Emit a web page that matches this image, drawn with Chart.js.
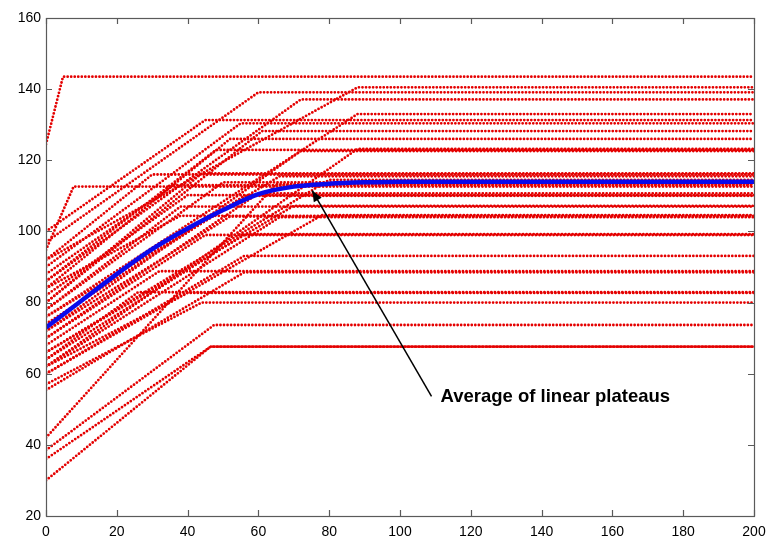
<!DOCTYPE html>
<html><head><meta charset="utf-8">
<script src="https://cdn.jsdelivr.net/npm/chart.js@4/dist/chart.umd.min.js"></script>
<style>html,body{margin:0;padding:0;background:#fff}canvas{display:block}</style>
</head><body>
<canvas id="c" width="771" height="542"></canvas>
<script>
// Axis ticks
const xTicks = [0, 20, 40, 60, 80, 100, 120, 140, 160, 180, 200];
const yTicks = [20, 40, 60, 80, 100, 120, 140, 160];

// Individual linear-plateau curves: value at x=0, join point, plateau value
const lineStart   = [124.5, 94.8, 92, 97, 86, 76, 100, 90, 80, 84, 86, 72, 62, 80, 76, 66, 42, 70, 82, 78, 84, 72, 62, 64, 70, 60, 68, 55.4, 64, 62, 57, 30, 36, 38.5, 88, 74, 66, 92, 78, 60];
const lineJoinX   = [4.8, 7.8, 88, 60, 72, 88, 45, 55, 61, 52, 48, 72, 88, 44, 66, 80, 65, 60, 40, 38, 38, 52, 66, 56, 45, 56, 32, 56, 26, 40, 44, 46.5, 46.5, 47.5, 36, 56, 70, 30, 50, 78];
const linePlateau = [143.5, 112.6, 140.5, 139.1, 137.1, 133.0, 131.3, 130.4, 128.2, 126.0, 122.9, 122.6, 123.2, 116.3, 115.5, 114.5, 113.3, 110.7, 110.2, 107.0, 104.4, 104.2, 104.0, 99.2, 99.0, 93.1, 88.8, 88.5, 82.9, 82.7, 80.0, 67.6, 67.6, 73.7, 113.0, 110.0, 107.2, 116.0, 113.8, 104.6];

// Average of the linear plateaus
const avgX = [0, 10, 20, 30, 40, 50, 60, 70, 80, 90, 100, 200];
const avgY = [73, 80.5, 88, 95, 100.8, 106, 110.5, 112.6, 113.4, 113.8, 114, 114];

const annotationText = "Average of linear plateaus";
const arrowTip = {x: 75.2, y: 111.5};
const arrowTail = {x: 108.9, y: 53.6};

const RED = 'rgb(228,0,0)';
const datasets = [];
for (let i = 0; i < lineStart.length; i++) {
  datasets.push({
    data: [{x: 0, y: lineStart[i]}, {x: lineJoinX[i], y: linePlateau[i]}, {x: 200, y: linePlateau[i]}],
    borderColor: RED, borderWidth: 2.8, borderDash: [0, 3.54], borderCapStyle: 'round',
    pointRadius: 0, tension: 0, fill: false, order: 1
  });
}
datasets.push({
  data: avgX.map((x, i) => ({x, y: avgY[i]})),
  borderColor: 'rgb(10,10,235)', borderWidth: 4.5, pointRadius: 0,
  cubicInterpolationMode: 'monotone', fill: false, order: 0
});

const frame = {
  id: 'frame',
  afterDraw(chart) {
    const {ctx, chartArea: a, scales: {x, y}} = chart;
    ctx.save();
    ctx.strokeStyle = '#5a5a5a'; ctx.lineWidth = 1.2;
    ctx.strokeRect(a.left + 0.5, a.top + 0.5, a.right - a.left, a.bottom - a.top);
    ctx.beginPath();
    const L = 6;
    xTicks.forEach(v => {
      const px = Math.round(x.getPixelForValue(v)) + 0.5;
      ctx.moveTo(px, a.bottom); ctx.lineTo(px, a.bottom - L);
      ctx.moveTo(px, a.top); ctx.lineTo(px, a.top + L);
    });
    yTicks.forEach(v => {
      const py = Math.round(y.getPixelForValue(v)) + 0.5;
      ctx.moveTo(a.left, py); ctx.lineTo(a.left + L, py);
      ctx.moveTo(a.right, py); ctx.lineTo(a.right - L, py);
    });
    ctx.stroke();
    // annotation arrow
    const tx = x.getPixelForValue(arrowTip.x), ty = y.getPixelForValue(arrowTip.y);
    const sx = x.getPixelForValue(arrowTail.x), sy = y.getPixelForValue(arrowTail.y);
    ctx.strokeStyle = '#000'; ctx.fillStyle = '#000'; ctx.lineWidth = 1.5;
    ctx.beginPath(); ctx.moveTo(sx, sy); ctx.lineTo(tx, ty); ctx.stroke();
    const ang = Math.atan2(ty - sy, tx - sx), h = 11, w = 4.5;
    ctx.beginPath();
    ctx.moveTo(tx, ty);
    ctx.lineTo(tx - h * Math.cos(ang) + w * Math.sin(ang), ty - h * Math.sin(ang) - w * Math.cos(ang));
    ctx.lineTo(tx - h * Math.cos(ang) - w * Math.sin(ang), ty - h * Math.sin(ang) + w * Math.cos(ang));
    ctx.closePath(); ctx.fill();
    ctx.font = 'bold 18.5px "Liberation Sans", Arial, sans-serif';
    ctx.textBaseline = 'middle'; ctx.textAlign = 'left';
    ctx.fillText(annotationText, sx + 9, sy);
    ctx.restore();
  }
};

const tickFont = {family: '"Liberation Sans", Arial, sans-serif', size: 14};
new Chart(document.getElementById('c'), {
  type: 'line',
  data: {datasets},
  options: {
    responsive: false, animation: false, devicePixelRatio: 1,
    layout: {padding: {top: 18, right: 17, left: 0, bottom: 0}},
    plugins: {legend: {display: false}, tooltip: {enabled: false}},
    scales: {
      x: {
        type: 'linear', min: 0, max: 200,
        afterBuildTicks: s => { s.ticks = xTicks.map(v => ({value: v})); },
        ticks: {color: '#000', font: tickFont, padding: 8, maxRotation: 0, autoSkip: false},
        grid: {display: false, drawTicks: false}, border: {display: false},
        afterFit: s => { s.height = 26; s.paddingLeft = 0; s.paddingRight = 0; }
      },
      y: {
        type: 'linear', min: 20, max: 160,
        afterBuildTicks: s => { s.ticks = yTicks.map(v => ({value: v})); },
        ticks: {color: '#000', font: tickFont, padding: 5, autoSkip: false},
        grid: {display: false, drawTicks: false}, border: {display: false},
        afterFit: s => { s.width = 46; s.paddingTop = 0; s.paddingBottom = 0; }
      }
    }
  },
  plugins: [frame]
});
</script>
</body></html>
